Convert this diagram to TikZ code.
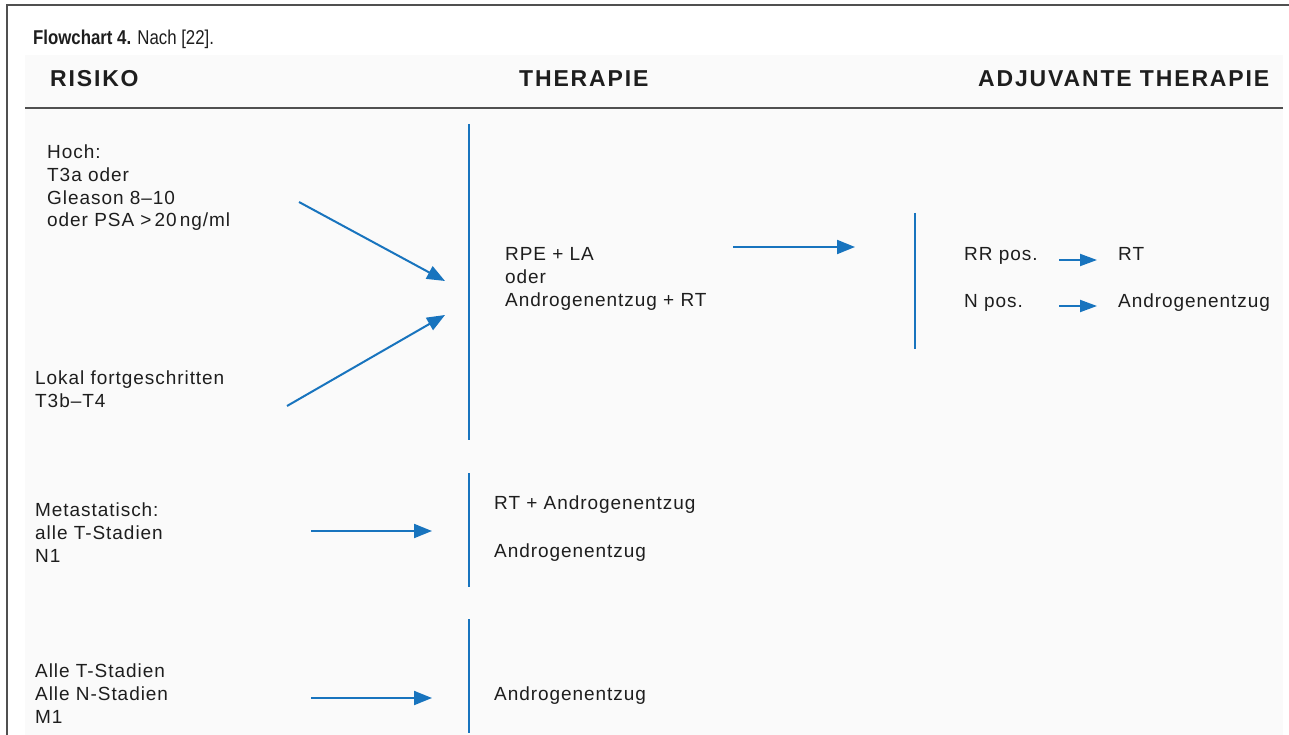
\documentclass[tikz,border=0pt]{standalone}
\usepackage{fontspec}
\setmainfont{Liberation Sans}
\newfontfamily\bodyfont[LetterSpace=5]{Liberation Sans}
\newfontfamily\headfont[LetterSpace=8]{Liberation Sans}
\usetikzlibrary{arrows.meta}
\definecolor{flowblue}{RGB}{24,116,190}
\definecolor{framegray}{RGB}{80,80,80}
\definecolor{inkgray}{RGB}{30,30,30}
\definecolor{panelgray}{RGB}{250,250,250}

\begin{document}
\begin{tikzpicture}[x=1pt,y=-1pt,
  % multi-line nodes: the base anchor sits on the last line
  body/.style={anchor=base west, inner sep=0pt, align=left, text=inkgray,
    font=\bodyfont\fontsize{19}{22.8}\selectfont},
  colhead/.style={anchor=base west, inner sep=0pt, text=inkgray,
    font=\headfont\bfseries\fontsize{23}{27}\selectfont},
  framerule/.style={draw=framegray, line width=2pt},
  divider/.style={draw=flowblue, line width=2pt},
  flowarrow/.style={draw=flowblue, line width=2pt, -{Triangle[length=18pt,width=14pt]}},
  shortarrow/.style={draw=flowblue, line width=2pt, -{Triangle[length=17pt,width=12pt]}},
]
\useasboundingbox (0,0) rectangle (1289,735);

% outer frame and header panel
\fill[white] (0,0) rectangle (1289,735);
\fill[panelgray] (25,55) rectangle (1283,735);
\draw[framerule] (7,735) -- (7,5) -- (1289,5);
\draw[framerule] (25,108) -- (1283,108);

% caption
\node[anchor=base west, inner sep=0pt, text=inkgray] (caption) at (33,45)
  {\scalebox{0.84}[1]{\fontsize{20}{22}\selectfont\textbf{Flowchart 4.} Nach [22].}};

% column headings
\node[colhead] (hrisk) at (50,87) {RISIKO};
\node[colhead] (htherapy) at (519,87) {THERAPIE};
\node[colhead] (hadjuvant) at (978,87) {ADJUVANTE THERAPIE};

% risk groups
\node[body] (high) at (47,227) {Hoch:\\T3a oder\\Gleason 8–10\\oder PSA >\,20\,ng/ml};
\node[body] (local) at (35,407) {Lokal fortgeschritten\\T3b–T4};
\node[body] (meta) at (35,562) {Metastatisch:\\alle T-Stadien\\N1};
\node[body] (allstages) at (35,723) {Alle T-Stadien\\Alle N-Stadien\\M1};

% therapies
\node[body] (rpe) at (505,306) {RPE + LA\\oder\\Androgenentzug + RT};
\node[body] (rtad) at (494,509) {RT + Androgenentzug};
\node[body] (admeta) at (494,557) {Androgenentzug};
\node[body] (adm1) at (494,700) {Androgenentzug};

% adjuvant therapy
\node[body] (rrpos) at (964,261) {RR pos.};
\node[body] (npos) at (964,307) {N pos.};
\node[body] (rt) at (1118,261) {RT};
\node[body] (adadj) at (1118,307) {Androgenentzug};

% column dividers
\draw[divider] (469,124) -- (469,440);
\draw[divider] (469,473) -- (469,587);
\draw[divider] (469,619) -- (469,733);
\draw[divider] (915,213) -- (915,349);

% arrow end points
\coordinate (highout) at (299,202);
\coordinate (highin) at (445,281);
\coordinate (localout) at (287,406);
\coordinate (localin) at (445,315);
\coordinate (rpeout) at (733,247);
\coordinate (adjin) at (855,247);
\coordinate (metaout) at (311,531);
\coordinate (metain) at (432,531);
\coordinate (allout) at (311,698);
\coordinate (allin) at (432,698);
\coordinate (rrout) at (1059,260);
\coordinate (rrin) at (1097,260);
\coordinate (nout) at (1059,306);
\coordinate (nin) at (1097,306);

% arrows
\draw[flowarrow] (highout) -- (highin);
\draw[flowarrow] (localout) -- (localin);
\draw[flowarrow] (rpeout) -- (adjin);
\draw[flowarrow] (metaout) -- (metain);
\draw[flowarrow] (allout) -- (allin);
\draw[shortarrow] (rrout) -- (rrin);
\draw[shortarrow] (nout) -- (nin);
\end{tikzpicture}
\end{document}
